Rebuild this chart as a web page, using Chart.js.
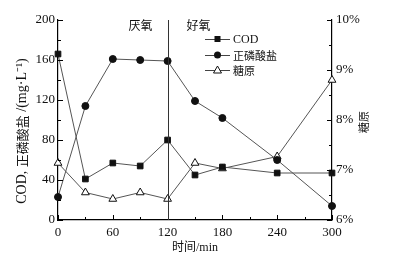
<!DOCTYPE html>
<html><head><meta charset="utf-8">
<script src="https://cdn.jsdelivr.net/npm/chart.js@4"></script>
<style>html,body{margin:0;padding:0;background:#fff}#wrap{width:395px;height:266px}</style>
</head><body><div id="wrap"><canvas id="c" width="395" height="266"></canvas></div>
<script>
const times = [0, 30, 60, 90, 120, 150, 180, 240, 300];
const cod = [166, 41, 57, 54, 80, 45, 53, 47, 47];
const phosphate = [23, 114, 161, 160, 159, 119, 102, 60, 14];
const glycogen = [7.14, 6.55, 6.42, 6.55, 6.42, 7.14, 7.03, 7.27, 8.8];
const seriesNames = ['COD', '正磷酸盐', '糖原'];
const phaseLabels = ['厌氧', '好氧'];
const dividerTime = 120;
const xTitle = '时间/min';
const yTitleParts = ['COD, ', '正磷酸盐', ' /(mg·L', '⁻¹', ')'];
const y2Title = '糖原';

const SERIF = "'Liberation Serif','Noto Sans CJK SC',serif";
const CJK = "'Noto Sans CJK SC','Liberation Serif',sans-serif";
const isCJK = s => /[\u4e00-\u9fff]/.test(s);
const fontFor = (s, size) => (isCJK(s) ? (size - 1) + "px " + CJK : size + "px " + SERIF);
const pts = arr => times.map((t, i) => ({x: t, y: arr[i]}));

function drawMixed(ctx, parts, size, cx, cy, rot) {
  ctx.save();
  ctx.translate(cx, cy); ctx.rotate(rot);
  ctx.textBaseline = 'middle'; ctx.textAlign = 'left';
  let total = 0;
  parts.forEach(p => { ctx.font = fontFor(p, size); total += ctx.measureText(p).width; });
  let x = -total / 2;
  parts.forEach(p => { ctx.font = fontFor(p, size); ctx.fillText(p, x, 0); x += ctx.measureText(p).width; });
  ctx.restore();
}

const inward = {
  id: 'inward',
  afterDraw(chart) {
    const ctx = chart.ctx;
    const {left, right, top, bottom} = chart.chartArea;
    const sx = chart.scales.x, sy = chart.scales.y, sy2 = chart.scales.y2;
    ctx.save();
    ctx.strokeStyle = '#000'; ctx.lineWidth = 1;
    const drawSet = (scale, fn) => {
      const vals = scale.ticks.map(t => t.value);
      vals.forEach((v, i) => {
        fn(scale.getPixelForValue(v), 5);
        if (i < vals.length - 1) fn(scale.getPixelForValue((v + vals[i + 1]) / 2), 3);
      });
    };
    ctx.beginPath();
    drawSet(sx, (p, l) => { p = Math.round(p) + 0.5; ctx.moveTo(p, bottom); ctx.lineTo(p, bottom - l); });
    drawSet(sy, (p, l) => { p = Math.round(p) + 0.5; ctx.moveTo(left, p); ctx.lineTo(left + l, p); });
    drawSet(sy2, (p, l) => { p = Math.round(p) + 0.5; ctx.moveTo(right, p); ctx.lineTo(right - l, p); });
    ctx.stroke();
    // divider line
    const dx = Math.round(sx.getPixelForValue(dividerTime)) + 0.5;
    ctx.strokeStyle = '#333';
    ctx.beginPath(); ctx.moveTo(dx, top); ctx.lineTo(dx, bottom); ctx.stroke();
    // phase labels
    ctx.fillStyle = '#111';
    ctx.font = "12px " + CJK;
    ctx.textBaseline = 'middle'; ctx.textAlign = 'center';
    ctx.fillText(phaseLabels[0], dx - 28, top + 5);
    ctx.fillText(phaseLabels[1], dx + 30, top + 5);
    // axis titles (rotated bottom-to-top)
    drawMixed(ctx, yTitleParts, 14, 22, 131, -Math.PI / 2);
    drawMixed(ctx, [y2Title], 12, 364, 122, -Math.PI / 2);
    // legend
    const lx = 205, ly = [39, 55, 70];
    chart.data.datasets.forEach((ds, i) => {
      const y = ly[i];
      ctx.strokeStyle = '#444'; ctx.lineWidth = 1;
      ctx.beginPath(); ctx.moveTo(lx, y + 0.5); ctx.lineTo(lx + 25, y + 0.5); ctx.stroke();
      const cx = lx + 12.5;
      ctx.fillStyle = ds.pointBackgroundColor; ctx.strokeStyle = ds.pointBorderColor;
      ctx.beginPath();
      if (ds.pointStyle === 'rect') { ctx.rect(cx - 3, y - 3, 6, 6); ctx.fill(); }
      else if (ds.pointStyle === 'circle') { ctx.arc(cx, y, 3.5, 0, Math.PI * 2); ctx.fill(); }
      else { ctx.moveTo(cx, y - 4); ctx.lineTo(cx + 4, y + 3); ctx.lineTo(cx - 4, y + 3); ctx.closePath(); ctx.fillStyle = '#fff'; ctx.fill(); ctx.stroke(); }
      ctx.fillStyle = '#111'; ctx.textAlign = 'left';
      ctx.font = fontFor(ds.label, 12);
      ctx.fillText(ds.label, lx + 28, y + 1);
    });
    ctx.restore();
  }
};

const common = {borderColor: '#555', borderWidth: 1, pointBorderColor: '#111', pointBorderWidth: 1, clip: false, tension: 0};
new Chart(document.getElementById('c'), {
  type: 'line',
  data: {
    datasets: [
      Object.assign({label: seriesNames[0], data: pts(cod), yAxisID: 'y', pointStyle: 'rect', pointRadius: 4, pointBackgroundColor: '#111'}, common),
      Object.assign({label: seriesNames[1], data: pts(phosphate), yAxisID: 'y', pointStyle: 'circle', pointRadius: 3.5, pointBackgroundColor: '#111'}, common),
      Object.assign({label: seriesNames[2], data: pts(glycogen), yAxisID: 'y2', pointStyle: 'triangle', pointRadius: 4.5, pointBackgroundColor: '#fff', pointBorderColor: '#555'}, common)
    ]
  },
  options: {
    responsive: false, animation: false,
    layout: {padding: {top: 20, left: 0, right: 0, bottom: 0}},
    plugins: {legend: {display: false}, tooltip: {enabled: false}},
    scales: {
      x: {
        type: 'linear', min: 0, max: 300,
        ticks: {stepSize: 60, color: '#111', font: {family: SERIF, size: 13}, padding: 5, maxRotation: 0},
        grid: {display: false, drawTicks: false},
        border: {display: true, color: '#000', width: 1.2},
        title: {display: true, text: xTitle, color: '#111', font: {family: SERIF, size: 12}, padding: {top: 0, bottom: 11}},
        afterFit(s) { s.height = 46; }
      },
      y: {
        position: 'left', min: 0, max: 200,
        ticks: {stepSize: 40, color: '#111', font: {family: SERIF, size: 13}, padding: 3},
        grid: {display: false, drawTicks: false},
        border: {display: true, color: '#000', width: 1.2},
        afterFit(s) { s.width = 58; }
      },
      y2: {
        position: 'right', min: 6, max: 10,
        ticks: {stepSize: 1, color: '#111', font: {family: SERIF, size: 13}, padding: 4, callback: v => v + '%'},
        grid: {display: false, drawTicks: false},
        border: {display: true, color: '#000', width: 1.2},
        afterFit(s) { s.width = 63; }
      }
    }
  },
  plugins: [inward]
});
</script></body></html>
